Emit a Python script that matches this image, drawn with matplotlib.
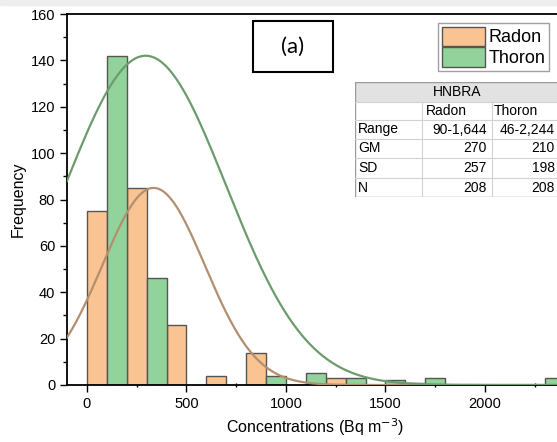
import numpy as np
import matplotlib
matplotlib.use('Agg')
import matplotlib.pyplot as plt
from matplotlib.patches import Patch, Rectangle
from matplotlib.ticker import MultipleLocator

plt.rcParams['font.family'] = ['Liberation Sans', 'DejaVu Sans']

# histogram bins (lower edge) and counts, bin width 100 Bq m-3
radon_left = [0, 200, 400, 600, 800, 1200, 1600]
radon_count = [75, 85, 26, 4, 14, 3, 1]
thoron_left = [100, 300, 900, 1100, 1300, 1500, 1700, 2300]
thoron_count = [142, 46, 4, 5, 3, 2, 3, 3]
bin_width = 100
x_ticks = [0, 500, 1000, 1500, 2000]

# normal fit curves: (mean, sd, peak height)
radon_fit = (335, 258, 85)
thoron_fit = (295, 404, 142)

# summary table
tbl_title = "HNBRA"
tbl_cols = ["Radon", "Thoron"]
tbl_rows = ["Range", "GM", "SD", "N"]
tbl_radon = ["90-1,644", "270", "257", "208"]
tbl_thoron = ["46-2,244", "210", "198", "208"]

radon_c = '#F9C491'
thoron_c = '#92D39B'
edge_c = '#555555'

W, H = 557, 442
fig = plt.figure(figsize=(W / 100, H / 100), dpi=100)
fig.patches.append(Rectangle((0, 1 - 5 / H), 1, 5 / H, transform=fig.transFigure,
                             color='#EEEEEE', zorder=0))

x0, x1 = -100, 2500
px_per_unit = 0.199
left_px, top_px, bot_px = 67, 14, 385
right_px = left_px + (x1 - x0) * px_per_unit
ax = fig.add_axes([left_px / W, 1 - bot_px / H, (right_px - left_px) / W, (bot_px - top_px) / H])

ax.bar(radon_left, radon_count, width=bin_width, align='edge', color=radon_c,
       edgecolor=edge_c, linewidth=1, zorder=2)
ax.bar(thoron_left, thoron_count, width=bin_width, align='edge', color=thoron_c,
       edgecolor=edge_c, linewidth=1, zorder=2)

xs = np.linspace(x0, x1, 600)
for (mu, sd, pk), col in [(radon_fit, '#B38F6F'), (thoron_fit, '#6C9C6E')]:
    ax.plot(xs, pk * np.exp(-(xs - mu) ** 2 / (2 * sd ** 2)), color=col, lw=1.6, zorder=3)

ax.set_xlim(x0, x1)
ax.set_ylim(0, 160)
ax.set_xticks(x_ticks)
ax.xaxis.set_minor_locator(MultipleLocator(250))
ax.yaxis.set_major_locator(MultipleLocator(20))
ax.yaxis.set_minor_locator(MultipleLocator(10))
ax.tick_params(which='major', length=5, width=1, labelsize=10.5, direction='out')
ax.tick_params(axis='x', which='minor', length=3, width=1, direction='inout')
ax.tick_params(axis='y', which='minor', length=3, width=1, direction='out')
for s in ax.spines.values():
    s.set_linewidth(1.3)

ax.set_xlabel('Concentrations (Bq m$^{-3}$)', fontsize=11.5)
ax.set_ylabel('Frequency', fontsize=11.5)
ax.xaxis.set_label_coords((315 - left_px) / (right_px - left_px), -(416 - bot_px) / (bot_px - top_px))
ax.yaxis.set_label_coords(-(left_px - 26) / (right_px - left_px), 0.5)

# (a) label box
fig.text(293 / W, 1 - 47 / H, '(a)', fontsize=16, family='Lato', ha='center', va='center')
fig.patches.append(Rectangle((253 / W, 1 - 72 / H), 80 / W, 51 / H, transform=fig.transFigure,
                             fill=False, ec='black', lw=1.5, zorder=5))

# legend
handles = [Patch(facecolor=radon_c, edgecolor=edge_c, label='Radon'),
           Patch(facecolor=thoron_c, edgecolor=edge_c, label='Thoron')]
fig.legend(handles=handles, loc='upper right', bbox_to_anchor=(549 / W, 1 - 23 / H),
           fontsize=13, frameon=True, fancybox=False, edgecolor='#888888',
           handlelength=2.4, handleheight=1.3, handletextpad=0.2, labelspacing=0.05,
           borderpad=0.2, borderaxespad=0)

# summary table drawn in pixel coordinates
tx = fig.add_axes([355 / W, 1 - 197 / H, (559 - 355) / W, (197 - 82) / H])
tx.set_xlim(355, 559)
tx.set_ylim(197, 82)
tx.axis('off')
col_x = [355, 422, 492, 559]
row_y = [82, 102, 120, 139, 158, 178, 197]
tx.add_patch(Rectangle((355, 82), 204, 20, fc='#E2E2E2', ec='none'))
tx.add_patch(Rectangle((355, 102), 204, 95, fc='white', ec='none'))
for y in row_y[1:-1]:
    tx.plot([355, 559], [y, y], color='#D2D2D2', lw=0.8)
for x in col_x[1:-1]:
    tx.plot([x, x], [102, 197], color='#D2D2D2', lw=0.8)
tx.add_patch(Rectangle((355, 82), 204, 115, fill=False, ec='#9A9A9A', lw=1))
fs = 10
tx.text(457, 92, tbl_title, fontsize=fs, ha='center', va='center')
tx.text(426, 111, tbl_cols[0], fontsize=fs, ha='left', va='center')
tx.text(494, 111, tbl_cols[1], fontsize=fs, ha='left', va='center')
for i, lab in enumerate(tbl_rows):
    yc = (row_y[i + 2] + row_y[i + 3]) / 2
    tx.text(358, yc, lab, fontsize=fs, ha='left', va='center')
    tx.text(487, yc, tbl_radon[i], fontsize=fs, ha='right', va='center')
    tx.text(555, yc, tbl_thoron[i], fontsize=fs, ha='right', va='center')

fig.savefig('out.png', dpi=100)
